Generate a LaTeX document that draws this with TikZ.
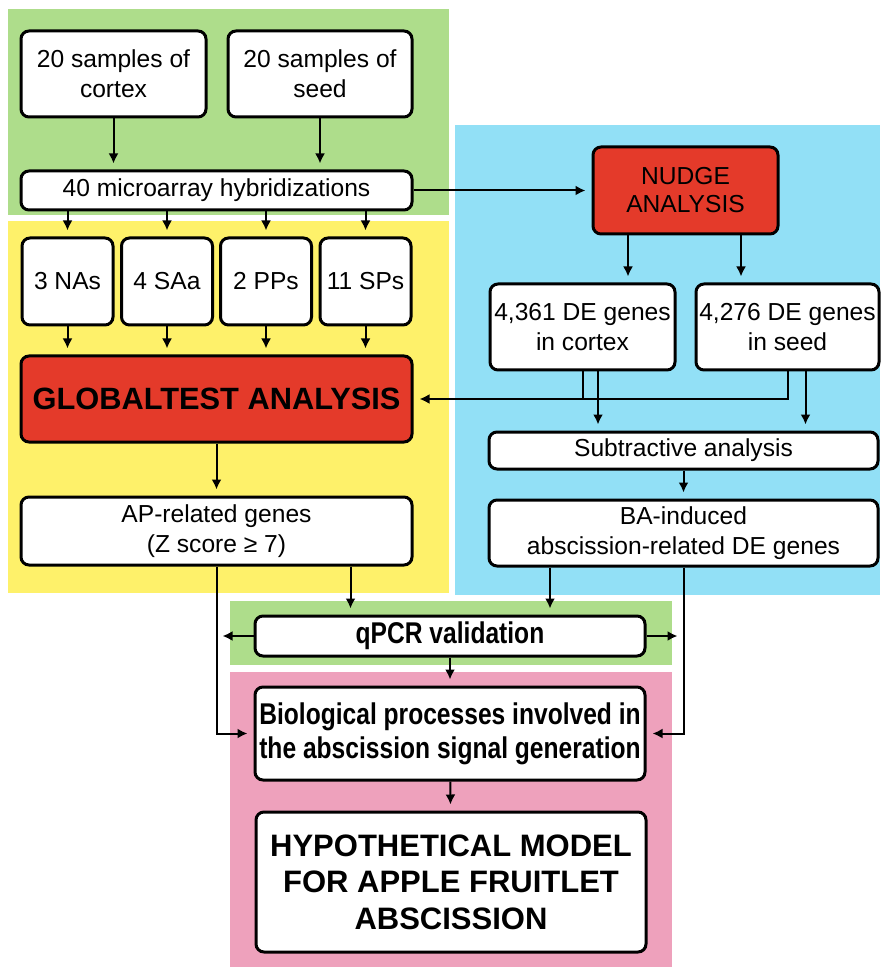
\documentclass[tikz,border=0pt]{standalone}
\usepackage{fontspec}
\setmainfont{Liberation Sans}
\newfontfamily\narrowbf{Liberation Sans Bold}[FakeStretch=0.82]
\usetikzlibrary{arrows.meta}

\definecolor{panelgreen}{RGB}{174,221,139}
\definecolor{panelyellow}{RGB}{254,241,106}
\definecolor{panelblue}{RGB}{146,224,246}
\definecolor{panelpink}{RGB}{238,161,188}
\definecolor{boxred}{RGB}{228,58,42}

\tikzset{
  box/.style={draw, line width=1.5pt, rounded corners=4pt, fill=white,
    align=center, inner sep=0pt, font=\fontsize{12.3}{15}\selectfont},
  redbox/.style={box, fill=boxred},
  link/.style={line width=1pt, -{Latex[length=5pt,width=5pt]}, shorten >=3pt},
  joint/.style={line width=1pt},
}

\begin{document}
\begin{tikzpicture}[x=0.5pt, y=-0.5pt]
  \useasboundingbox (0,0) rectangle (880,967);

  % panels
  \fill[panelgreen]  (8,9)     rectangle (449,215);
  \fill[panelyellow] (8,221)   rectangle (449,593);
  \fill[panelblue]   (455,125) rectangle (880,595);
  \fill[panelgreen]  (230,601) rectangle (672,665);
  \fill[panelpink]   (230,672) rectangle (672,967);

  % sampling
  \node[box, minimum width=92.5pt, minimum height=43pt] (samcortex) at (113.5,74) {20 samples of\\cortex};
  \node[box, minimum width=92pt, minimum height=43pt] (samseed) at (320,74) {20 samples of\\seed};
  \node[box, minimum width=195.5pt, minimum height=19.5pt] (hyb) at (216.5,190.5) {40 microarray hybridizations};

  % groups
  \foreach \name/\cx/\txt in {nas/67.5/3 NAs, saa/167/4 SAa, pps/266/2 PPs, sps/365.5/11 SPs} {
    \node[box, minimum width=45.5pt, minimum height=43.5pt] (\name) at (\cx,281.5) {\txt};
  }

  \node[redbox, minimum width=195.5pt, minimum height=43pt,
    font=\fontsize{15.4}{18}\bfseries] (global) at (216.5,399) {GLOBALTEST ANALYSIS};
  \node[box, minimum width=195.5pt, minimum height=34pt] (ap) at (216.5,531) {AP-related genes\\(Z score ≥ 7)};

  % nudge side
  \node[redbox, minimum width=92.5pt, minimum height=43.5pt,
    font=\fontsize{12.3}{14}\selectfont] (nudge) at (685.5,190.5) {NUDGE\\ANALYSIS};
  \node[box, minimum width=92.5pt, minimum height=43pt] (decortex) at (582.5,327) {4,361 DE genes\\in cortex};
  \node[box, minimum width=91.5pt, minimum height=43pt] (deseed) at (787.5,327) {4,276 DE genes\\in seed};
  \node[box, minimum width=194.5pt, minimum height=18.5pt] (sub) at (683.5,450.5) {Subtractive analysis};
  \node[box, minimum width=194.5pt, minimum height=33pt] (ba) at (683.5,533) {BA-induced\\abscission-related DE genes};

  % validation and model
  \node[box, minimum width=195pt, minimum height=20pt,
    font=\fontsize{15}{17}\narrowbf] (qpcr) at (450,636) {qPCR validation};
  \node[box, minimum width=195pt, minimum height=46.5pt,
    font=\fontsize{15}{17}\narrowbf] (bio) at (450,733.5) {Biological processes involved in\\the abscission signal generation};
  \node[box, minimum width=195pt, minimum height=70pt,
    font=\fontsize{15.5}{18.3}\bfseries] (hyp) at (451,882) {HYPOTHETICAL MODEL\\FOR APPLE FRUITLET\\ABSCISSION};

  % links
  \draw[link] (samcortex) -- (samcortex.south |- hyb.north);
  \draw[link] (samseed) -- (samseed.south |- hyb.north);
  \foreach \name in {nas, saa, pps, sps} {
    \draw[link] (\name.north |- hyb.south) -- (\name.north);
    \draw[link] (\name.south) -- (\name.south |- global.north);
  }
  \draw[link] (global) -- (ap);
  \draw[link] (hyb) -- (nudge);
  \draw[link] ([xshift=-28.75pt]nudge.south) -- ([xshift=-28.75pt]nudge.south |- decortex.north);
  \draw[link] ([xshift=27.75pt]nudge.south) -- ([xshift=27.75pt]nudge.south |- deseed.north);
  \draw[joint] (decortex.south) -- (decortex.south |- global.east);
  \draw[link] (deseed.south) |- (global.east);
  \draw[link] ([xshift=7.75pt]decortex.south) -- ([xshift=7.75pt]decortex.south |- sub.north);
  \draw[link] ([xshift=9pt]deseed.south) -- ([xshift=9pt]deseed.south |- sub.north);
  \draw[link] (sub) -- (ba);
  \draw[link] ([xshift=67pt]ap.south) -- ([xshift=67pt]ap.south |- qpcr.north);
  \draw[link] ([xshift=-66.75pt]ba.south) -- ([xshift=-66.75pt]ba.south |- qpcr.north);
  \draw[link] (ap.south) |- (bio.west);
  \draw[link] (ba.south) |- (bio.east);
  \draw[link] (qpcr.west) -- (qpcr.west -| ap.south);
  \draw[link] (qpcr.east) -- (qpcr.east -| ba.south);
  \draw[link] (qpcr) -- (bio);
  \draw[link] (bio) -- (hyp);
\end{tikzpicture}
\end{document}
